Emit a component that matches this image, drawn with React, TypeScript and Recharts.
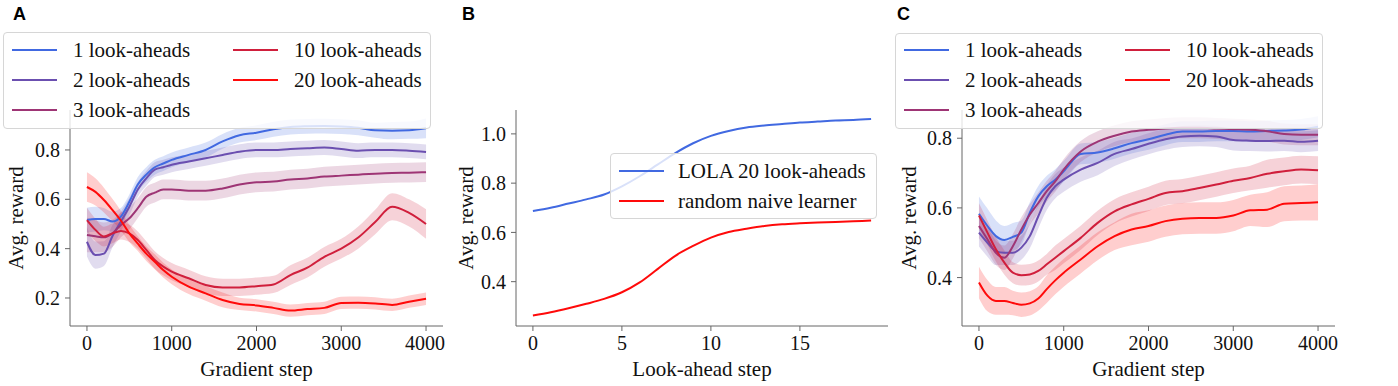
import React from 'react'
import { ComposedChart, Line, Area, XAxis, YAxis } from 'recharts'

const FONT = '"Liberation Serif", "Times New Roman", serif'

// gradient steps shared by panels A and C
const steps = [0, 100, 200, 300, 400, 500, 600, 700, 800, 900, 1000, 1200, 1400, 1600, 1800, 2000, 2200, 2400, 2600, 2800, 3000, 3200, 3400, 3600, 3800, 4000]

const seriesNames = ['1 look-aheads', '2 look-aheads', '3 look-aheads', '10 look-aheads', '20 look-aheads']
const seriesColors = ['#4169e1', '#6b4fb0', '#9e3575', '#d01f3c', '#ff0a0a']

// panel A: mean and band half-width per series
const aMean1 = [0.516, 0.52, 0.52, 0.51, 0.53, 0.59, 0.66, 0.70, 0.73, 0.745, 0.76, 0.78, 0.80, 0.835, 0.86, 0.87, 0.884, 0.893, 0.896, 0.897, 0.895, 0.89, 0.88, 0.878, 0.88, 0.888]
const aMean2 = [0.428, 0.374, 0.38, 0.45, 0.51, 0.57, 0.64, 0.685, 0.72, 0.73, 0.74, 0.753, 0.766, 0.78, 0.793, 0.80, 0.80, 0.804, 0.807, 0.81, 0.804, 0.797, 0.80, 0.80, 0.797, 0.792]
const aMean3 = [0.455, 0.45, 0.446, 0.462, 0.496, 0.523, 0.564, 0.61, 0.627, 0.64, 0.64, 0.635, 0.635, 0.644, 0.66, 0.669, 0.672, 0.68, 0.684, 0.692, 0.696, 0.70, 0.704, 0.707, 0.708, 0.71]
const aMean10 = [0.516, 0.476, 0.449, 0.462, 0.472, 0.462, 0.435, 0.395, 0.354, 0.327, 0.307, 0.28, 0.253, 0.243, 0.243, 0.248, 0.255, 0.293, 0.323, 0.367, 0.40, 0.445, 0.508, 0.57, 0.545, 0.50]
const aMean20 = [0.65, 0.63, 0.597, 0.557, 0.514, 0.462, 0.42, 0.38, 0.347, 0.313, 0.286, 0.246, 0.219, 0.192, 0.176, 0.17, 0.16, 0.149, 0.155, 0.16, 0.18, 0.181, 0.178, 0.172, 0.185, 0.197]
const aBand1 = [0.05, 0.05, 0.045, 0.04, 0.035, 0.03, 0.03, 0.03, 0.03, 0.03, 0.03, 0.03, 0.03, 0.03, 0.03, 0.03, 0.03, 0.03, 0.03, 0.03, 0.03, 0.03, 0.03, 0.035, 0.035, 0.04]
const aBand2 = [0.06, 0.055, 0.05, 0.045, 0.04, 0.035, 0.03, 0.03, 0.03, 0.03, 0.03, 0.03, 0.03, 0.03, 0.03, 0.03, 0.03, 0.03, 0.03, 0.03, 0.03, 0.03, 0.03, 0.03, 0.03, 0.03]
const aBand3 = [0.07, 0.065, 0.06, 0.055, 0.05, 0.045, 0.04, 0.04, 0.04, 0.04, 0.04, 0.04, 0.04, 0.04, 0.04, 0.04, 0.04, 0.04, 0.04, 0.04, 0.04, 0.04, 0.04, 0.04, 0.04, 0.04]
const aBand10 = [0.05, 0.045, 0.04, 0.04, 0.035, 0.035, 0.035, 0.035, 0.035, 0.035, 0.035, 0.035, 0.035, 0.035, 0.035, 0.035, 0.035, 0.04, 0.04, 0.04, 0.04, 0.045, 0.05, 0.055, 0.055, 0.06]
const aBand20 = [0.06, 0.055, 0.05, 0.045, 0.04, 0.035, 0.03, 0.03, 0.03, 0.03, 0.03, 0.03, 0.03, 0.03, 0.025, 0.025, 0.025, 0.025, 0.025, 0.025, 0.025, 0.025, 0.025, 0.025, 0.025, 0.025]

// panel C
const cMean1 = [0.583, 0.548, 0.519, 0.508, 0.517, 0.529, 0.586, 0.633, 0.662, 0.681, 0.705, 0.755, 0.759, 0.771, 0.786, 0.797, 0.81, 0.819, 0.819, 0.821, 0.821, 0.819, 0.821, 0.822, 0.825, 0.833]
const cMean2 = [0.529, 0.50, 0.476, 0.471, 0.471, 0.486, 0.519, 0.576, 0.629, 0.662, 0.681, 0.71, 0.729, 0.755, 0.769, 0.784, 0.797, 0.805, 0.807, 0.805, 0.795, 0.793, 0.792, 0.793, 0.79, 0.793]
const cMean3 = [0.548, 0.51, 0.471, 0.457, 0.49, 0.538, 0.581, 0.614, 0.648, 0.676, 0.71, 0.762, 0.79, 0.807, 0.819, 0.824, 0.828, 0.83, 0.83, 0.828, 0.826, 0.824, 0.82, 0.812, 0.81, 0.81]
const cMean10 = [0.578, 0.529, 0.481, 0.443, 0.414, 0.407, 0.409, 0.419, 0.438, 0.457, 0.476, 0.514, 0.557, 0.59, 0.61, 0.626, 0.643, 0.648, 0.657, 0.667, 0.678, 0.686, 0.698, 0.705, 0.71, 0.708]
const cMean20 = [0.386, 0.348, 0.333, 0.333, 0.327, 0.322, 0.326, 0.34, 0.367, 0.392, 0.414, 0.452, 0.49, 0.519, 0.538, 0.548, 0.562, 0.569, 0.571, 0.571, 0.578, 0.593, 0.595, 0.612, 0.614, 0.616]
const cBand1 = [0.05, 0.05, 0.045, 0.04, 0.04, 0.035, 0.03, 0.03, 0.03, 0.03, 0.03, 0.03, 0.03, 0.03, 0.03, 0.03, 0.03, 0.03, 0.03, 0.03, 0.03, 0.03, 0.03, 0.03, 0.03, 0.03]
const cBand2 = [0.04, 0.04, 0.04, 0.035, 0.035, 0.035, 0.035, 0.035, 0.035, 0.035, 0.035, 0.035, 0.035, 0.035, 0.03, 0.03, 0.03, 0.03, 0.03, 0.03, 0.03, 0.03, 0.03, 0.03, 0.03, 0.03]
const cBand3 = [0.035, 0.035, 0.035, 0.035, 0.035, 0.035, 0.03, 0.03, 0.03, 0.03, 0.03, 0.03, 0.03, 0.03, 0.03, 0.03, 0.03, 0.03, 0.03, 0.03, 0.03, 0.03, 0.03, 0.03, 0.03, 0.03]
const cBand10 = [0.035, 0.035, 0.035, 0.035, 0.03, 0.03, 0.03, 0.03, 0.03, 0.035, 0.035, 0.035, 0.035, 0.035, 0.035, 0.035, 0.035, 0.035, 0.035, 0.035, 0.035, 0.035, 0.04, 0.04, 0.04, 0.04]
const cBand20 = [0.045, 0.045, 0.04, 0.04, 0.035, 0.035, 0.035, 0.035, 0.04, 0.04, 0.04, 0.04, 0.04, 0.04, 0.045, 0.045, 0.045, 0.045, 0.045, 0.045, 0.045, 0.045, 0.05, 0.05, 0.05, 0.052]

// panel B
const lookSteps = [0, 1, 2, 3, 4, 5, 6, 7, 8, 9, 10, 11, 12, 13, 14, 15, 16, 17, 18, 19]
const lolaReward = [0.687, 0.70, 0.717, 0.734, 0.754, 0.787, 0.828, 0.875, 0.922, 0.962, 0.992, 1.012, 1.026, 1.034, 1.04, 1.046, 1.05, 1.054, 1.056, 1.06]
const naiveReward = [0.263, 0.276, 0.292, 0.31, 0.33, 0.357, 0.397, 0.451, 0.505, 0.545, 0.579, 0.602, 0.615, 0.626, 0.633, 0.637, 0.64, 0.642, 0.645, 0.648]

const gradTicks = [0, 1000, 2000, 3000, 4000]

function buildRows(means: number[][], bands: number[][]) {
  return steps.map((x, i) => {
    const row: any = { x }
    means.forEach((m, k) => {
      row['m' + k] = m[i]
      row['b' + k] = [m[i] - bands[k][i], m[i] + bands[k][i]]
    })
    return row
  })
}

const dataA = buildRows([aMean1, aMean2, aMean3, aMean10, aMean20], [aBand1, aBand2, aBand3, aBand10, aBand20])
const dataC = buildRows([cMean1, cMean2, cMean3, cMean10, cMean20], [cBand1, cBand2, cBand3, cBand10, cBand20])
const dataB = lookSteps.map((x, i) => ({ x, lola: lolaReward[i], naive: naiveReward[i] }))

const tickStyle = { fill: '#111', fontSize: 20, fontFamily: FONT }

function Panel({ left, width, data, xDomain, xTicks, yDomain, yTicks, yAxisWidth, marginRight, xLabel, yLabelX, children }: any) {
  return (
    <div style={{ position: 'absolute', left, top: 0 }}>
      <ComposedChart width={width} height={386} data={data} margin={{ top: 110, right: marginRight, bottom: 0, left: 0 }}>
        <XAxis
          type="number"
          dataKey="x"
          domain={xDomain}
          ticks={xTicks}
          allowDataOverflow
          height={60}
          stroke="#666"
          tickSize={5}
          tickMargin={5}
          tick={tickStyle}
          label={{
            content: (p: any) => (
              <text x={p.viewBox.x + p.viewBox.width / 2} y={p.viewBox.y + 43} textAnchor="middle" dominantBaseline="central" fontSize={21} fontFamily={FONT} fill="#111">
                {xLabel}
              </text>
            ),
          }}
        />
        <YAxis
          type="number"
          domain={yDomain}
          ticks={yTicks}
          allowDataOverflow
          width={yAxisWidth}
          stroke="#666"
          tickSize={5}
          tickMargin={5}
          tick={tickStyle}
          tickFormatter={(v: number) => v.toFixed(1)}
          label={{
            content: (p: any) => {
              const cy = p.viewBox.y + p.viewBox.height / 2
              return (
                <text x={yLabelX} y={cy} transform={`rotate(-90 ${yLabelX} ${cy})`} textAnchor="middle" dominantBaseline="central" fontSize={21} fontFamily={FONT} fill="#111">
                  Avg. reward
                </text>
              )
            },
          }}
        />
        {children}
      </ComposedChart>
    </div>
  )
}

function bandSeries() {
  const out: any[] = []
  seriesColors.forEach((c, k) => {
    out.push(<Area key={'b' + k} dataKey={'b' + k} type="monotone" stroke="none" fill={c} fillOpacity={0.2} isAnimationActive={false} />)
  })
  seriesColors.forEach((c, k) => {
    out.push(<Line key={'m' + k} dataKey={'m' + k} type="monotone" stroke={c} strokeWidth={2} dot={false} isAnimationActive={false} />)
  })
  return out
}

function LegendBox({ left, top, width, height, items }: any) {
  return (
    <div style={{ position: 'absolute', left, top, width, height, background: 'rgba(255,255,255,0.8)', border: '1px solid #d6d6d6', borderRadius: 4, boxSizing: 'border-box' }}>
      {items.map((it: any) => (
        <React.Fragment key={it.label}>
          <div style={{ position: 'absolute', left: it.lx - left, top: it.y - top - 1, width: 45, height: 2, background: it.color }} />
          <div style={{ position: 'absolute', left: it.tx - left, top: it.y - top - 13, height: 26, lineHeight: '26px', fontSize: 21, fontFamily: FONT, color: '#111', whiteSpace: 'nowrap' }}>
            {it.label}
          </div>
        </React.Fragment>
      ))}
    </div>
  )
}

function gridItems(x0: number, x1: number) {
  const rows = [49, 79, 109, 49, 79]
  return seriesNames.map((label, k) => ({
    label,
    color: seriesColors[k],
    y: rows[k],
    lx: k < 3 ? x0 : x1,
    tx: (k < 3 ? x0 : x1) + 61,
  }))
}

const letterStyle: any = { position: 'absolute', top: 4, fontSize: 18, fontWeight: 'bold', fontFamily: '"Liberation Sans", Arial, sans-serif', color: '#000' }

export default function App() {
  return (
    <div style={{ position: 'fixed', left: 0, top: 0, width: 1398, height: 386, background: '#fff', overflow: 'hidden' }}>
      <Panel left={0} width={445} data={dataA} xDomain={[-200, 4200]} xTicks={gradTicks} yDomain={[0.0865, 0.962]} yTicks={[0.2, 0.4, 0.6, 0.8]} yAxisWidth={70} marginRight={2} xLabel="Gradient step" yLabelX={16}>
        {bandSeries()}
      </Panel>
      <Panel left={445} width={455} data={dataB} xDomain={[-0.95, 19.95]} xTicks={[0, 5, 10, 15]} yDomain={[0.22, 1.097]} yTicks={[0.4, 0.6, 0.8, 1.0]} yAxisWidth={71} marginRight={12} xLabel="Look-ahead step" yLabelX={21}>
        <Line dataKey="lola" type="monotone" stroke="#4169e1" strokeWidth={2} dot={false} isAnimationActive={false} />
        <Line dataKey="naive" type="monotone" stroke="#ff0a0a" strokeWidth={2} dot={false} isAnimationActive={false} />
      </Panel>
      <Panel left={890} width={508} data={dataC} xDomain={[-200, 4200]} xTicks={gradTicks} yDomain={[0.261, 0.881]} yTicks={[0.4, 0.6, 0.8]} yAxisWidth={72} marginRight={63} xLabel="Gradient step" yLabelX={19}>
        {bandSeries()}
      </Panel>

      <LegendBox left={3} top={32} width={428} height={97} items={gridItems(11, 232)} />
      <LegendBox left={895} top={33} width={428} height={96} items={gridItems(903, 1124)} />
      <LegendBox
        left={610}
        top={153}
        width={267}
        height={66}
        items={[
          { label: 'LOLA 20 look-aheads', color: '#4169e1', y: 170, lx: 618, tx: 677 },
          { label: 'random naive learner', color: '#ff0a0a', y: 200, lx: 618, tx: 677 },
        ]}
      />

      <div style={{ ...letterStyle, left: 13 }}>A</div>
      <div style={{ ...letterStyle, left: 462 }}>B</div>
      <div style={{ ...letterStyle, left: 897 }}>C</div>
    </div>
  )
}
